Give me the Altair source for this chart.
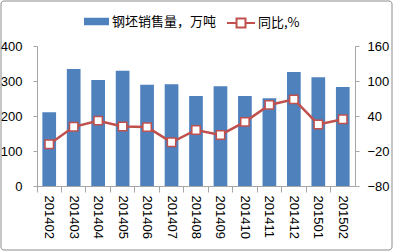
import altair as alt
import pandas as pd

months = ["201402", "201403", "201404", "201405", "201406", "201407", "201408",
          "201409", "201410", "201411", "201412", "201501", "201502"]
sales = [211, 334, 303, 329, 289, 291, 257, 285, 257, 251, 326, 311, 283]
yoy = [-8.5, 21.5, 32, 22, 21, -5, 16, 7.5, 30, 59, 68.5, 25.5, 34.5]

bar_name = "钢坯销售量，万吨"
line_name = "同比,%"

df = pd.DataFrame({"month": months, "sales": sales, "yoy": yoy})
df["s1"] = bar_name
df["s2"] = line_name

BLUE = "#4F81BD"
RED = "#C0504D"
AXIS_GRAY = "#A6A6A6"

x_enc = alt.X("month:N", sort=months, title=None,
              scale=alt.Scale(paddingInner=0, paddingOuter=0),
              axis=alt.Axis(labelAngle=90, labelAlign="left", labelBaseline="middle",
                            bandPosition=0, tickSize=6, labelPadding=3,
                            domainColor=AXIS_GRAY, tickColor=AXIS_GRAY,
                            labelFont="Liberation Sans", labelFontSize=13,
                            labelColor="#000000"))

base = alt.Chart(df)

bars = base.mark_bar(width={"band": 0.56}).encode(
    x=x_enc,
    y=alt.Y("sales:Q", title=None,
            scale=alt.Scale(domain=[0, 400], nice=False, zero=True),
            axis=alt.Axis(orient="left", values=[0, 100, 200, 300, 400], grid=False,
                          tickSize=4, labelPadding=11, domainColor=AXIS_GRAY,
                          tickColor=AXIS_GRAY, labelFont="Liberation Sans",
                          labelFontSize=13, labelColor="#000000")),
    fill=alt.Fill("s1:N", scale=alt.Scale(domain=[bar_name], range=[BLUE]),
                  legend=alt.Legend(title=None, orient="none", legendX=47, legendY=-37,
                                    symbolType="M-1,-0.3H1V0.3H-1Z", symbolSize=625,
                                    symbolStrokeWidth=0, labelOffset=3, padding=0,
                                    labelFont="Noto Sans CJK SC", labelFontSize=13,
                                    labelColor="#000000")),
)

y2 = alt.Scale(domain=[-80, 160], nice=False, zero=False)

line = base.mark_line(strokeWidth=2.5).encode(
    x=x_enc,
    y=alt.Y("yoy:Q", title=None, scale=y2,
            axis=alt.Axis(orient="right", values=[-80, -20, 40, 100, 160], grid=False,
                          tickSize=4, labelPadding=8, domainColor=AXIS_GRAY,
                          tickColor=AXIS_GRAY, labelFont="Liberation Sans",
                          labelFontSize=13, labelColor="#000000")),
    stroke=alt.Stroke("s2:N", scale=alt.Scale(domain=[line_name], range=[RED]),
                      legend=alt.Legend(title=None, orient="none", legendX=189, legendY=-38,
                                        symbolType="M-1,0H-0.32M-0.32,-0.32H0.32V0.32H-0.32ZM0.32,0H1",
                                        symbolSize=784, symbolStrokeWidth=2,
                                        symbolFillColor="#FFFFFF", labelOffset=2, padding=0,
                                        labelFont="Noto Sans CJK SC", labelFontSize=13,
                                        labelColor="#000000")),
)

points = base.mark_point(shape="square", size=70, filled=True, fill="#FFFFFF",
                         stroke=RED, strokeWidth=1.5, opacity=1).encode(
    x=x_enc,
    y=alt.Y("yoy:Q", title=None, scale=y2, axis=None),
)

frame = alt.Chart(pd.DataFrame({"f": [0]})).mark_rect(
    fill=None, stroke="#8C8C8C", strokeWidth=1, cornerRadius=3
).encode(
    x=alt.value(-36), x2=alt.value(355), y=alt.value(-45), y2=alt.value(204)
)

chart = alt.layer(bars, line, points, frame).resolve_scale(
    y="independent", fill="independent", stroke="independent"
).properties(
    width=318, height=140,
    autosize=alt.AutoSizeParams(type="none"),
    padding={"left": 37, "top": 46, "right": 38, "bottom": 66},
    background="#FFFFFF",
).configure_view(stroke=None)

chart.save("out.html", embed_options={"renderer": "svg", "actions": False})
